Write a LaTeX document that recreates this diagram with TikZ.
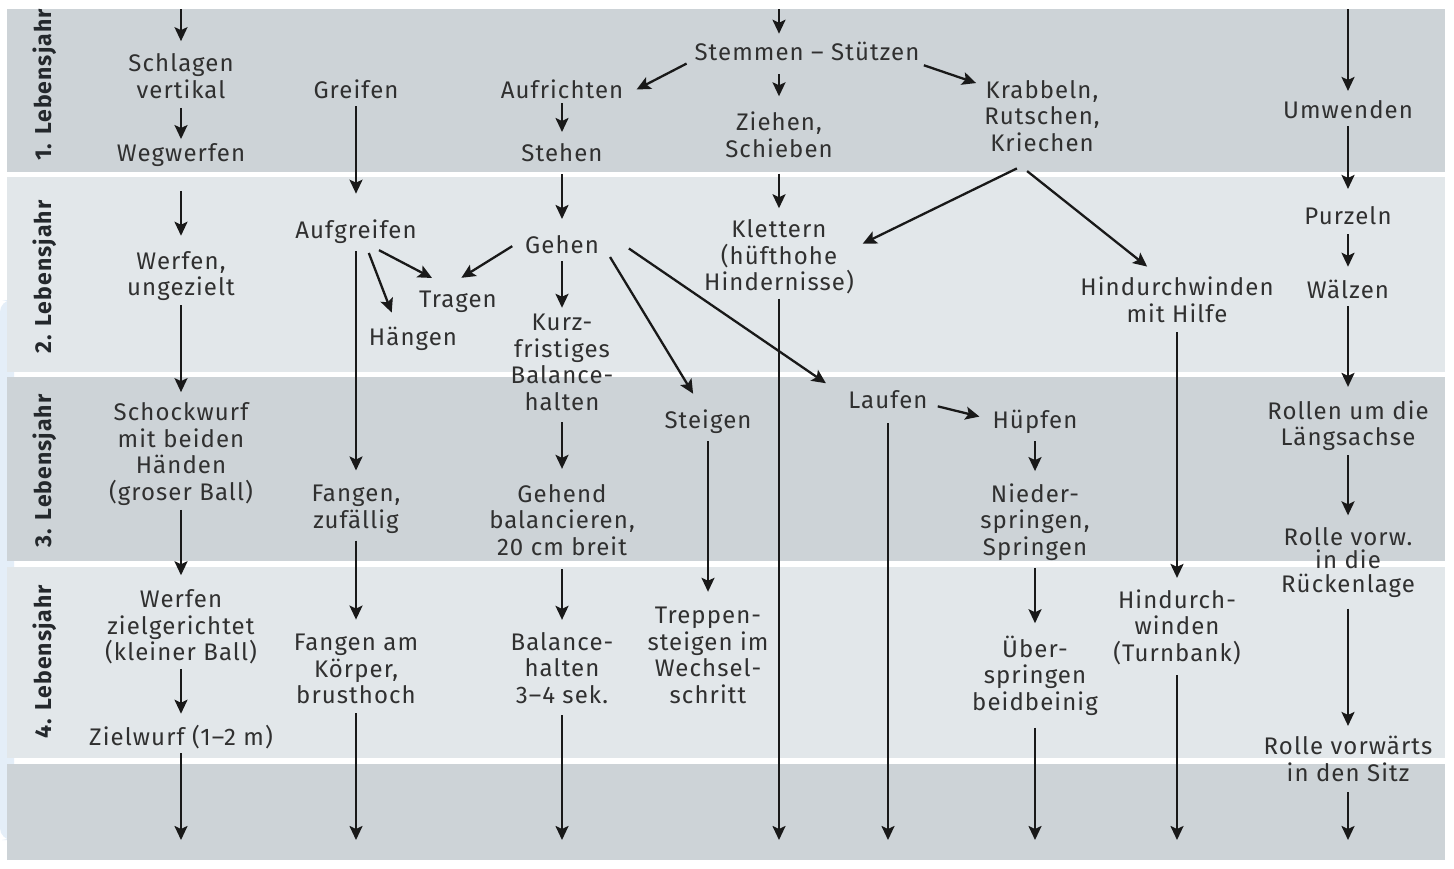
\documentclass[tikz,border=0pt]{standalone}
\usepackage{fontspec}
\setmainfont{Fira Sans}[LetterSpace=4.5]
\usetikzlibrary{arrows.meta}
\definecolor{banddark}{RGB}{205,211,215}
\definecolor{bandlight}{RGB}{226,231,234}
\definecolor{edgeblue}{RGB}{228,238,248}
\definecolor{txtgrey}{RGB}{48,48,48}
\definecolor{yeargrey}{RGB}{36,40,44}
\definecolor{arrowgrey}{RGB}{25,25,25}

\begin{document}
\begin{tikzpicture}[x=0.5pt, y=-0.5pt,
  act/.style={font=\fontsize{12}{13.3}\selectfont, text=txtgrey, align=center, inner sep=2pt},
  year/.style={font=\fontsize{11.5}{12}\selectfont\bfseries, text=yeargrey, rotate=90, inner sep=2pt},
  arr/.style={draw=arrowgrey, line width=1.15pt, -{Stealth[length=7pt, width=6.5pt, inset=1.5pt]}}]

\useasboundingbox (0,0) rectangle (1454,868);
\fill [white] (0,0) rectangle (1454,868);
\fill [edgeblue, rounded corners=6pt] (0,300) rectangle (14,840);
\fill [banddark] (7,9) rectangle (1445,172);
\fill [bandlight] (7,177) rectangle (1445,372);
\fill [banddark] (7,377) rectangle (1445,561);
\fill [bandlight] (7,567) rectangle (1445,758);
\fill [banddark] (7,764) rectangle (1445,860);

\node [year] (lj1) at (45,85) {1. Lebensjahr};
\node [year] (lj2) at (45,277) {2. Lebensjahr};
\node [year] (lj3) at (45,471) {3. Lebensjahr};
\node [year] (lj4) at (45,662) {4. Lebensjahr};

\coordinate (top1) at (181,9);
\coordinate (top4) at (779,9);
\coordinate (top5) at (1348,9);
\coordinate (bot1) at (181,840);
\coordinate (bot2) at (356,840);
\coordinate (bot3) at (562,840);
\coordinate (bot4) at (779,840);
\coordinate (bot5) at (888,840);
\coordinate (bot6) at (1035,840);
\coordinate (bot7) at (1177,840);
\coordinate (bot8) at (1348,840);

\node [act] (s1a) at (181,76) {Schlagen\\vertikal};
\node [act] (s1b) at (181,155) {Wegwerfen};
\node [act] (s1c) at (181,276) {Werfen,\\ungezielt};
\node [act] (s1d) at (181,454) {Schockwurf\\mit beiden\\Händen\\(groser Ball)};
\node [act] (s1e) at (181,627) {Werfen\\zielgerichtet\\(kleiner Ball)};
\node [act] (s1f) at (181,737) {Zielwurf (1–2 m)};

\node [act] (g2a) at (356,89.5) {Greifen};
\node [act] (g2b) at (356,232) {Aufgreifen};
\node [act] (tragen) at (458,302) {Tragen};
\node [act] (haengen) at (413,339) {Hängen};
\node [act] (g2c) at (356,509) {Fangen,\\zufällig};
\node [act] (g2d) at (356,669) {Fangen am\\Körper,\\brusthoch};

\node [act] (aufrichten) at (562,89.5) {Aufrichten};
\node [act] (stehen) at (562,152.5) {Stehen};
\node [act] (gehen) at (562,244.5) {Gehen};
\node [act] (kurz) at (562,362.5) {Kurz-\\fristiges\\Balance-\\halten};
\node [act] (gehend) at (562,520) {Gehend\\balancieren,\\20 cm breit};
\node [act] (balance) at (562,668) {Balance-\\halten\\3–4 sek.};
\node [act] (steigen) at (708,422) {Steigen};
\node [act] (treppen) at (708,655.5) {Treppen-\\steigen im\\Wechsel-\\schritt};

\node [act] (ss) at (807,51.5) {Stemmen – Stützen};
\node [act] (ziehen) at (779,134.5) {Ziehen,\\Schieben};
\node [act] (klettern) at (779,257) {Klettern\\(hüfthohe\\Hindernisse)};
\node [act] (krabbeln) at (1042,116) {Krabbeln,\\Rutschen,\\Kriechen};
\node [act] (laufen) at (888,399.5) {Laufen};
\node [act] (huepfen) at (1035,422) {Hüpfen};
\node [act] (nieder) at (1035,522) {Nieder-\\springen,\\Springen};
\node [act] (ueber) at (1035,675.5) {Über-\\springen\\beidbeinig};
\node [act] (hmh) at (1177,300) {Hindurchwinden\\mit Hilfe};
\node [act] (htb) at (1177,627) {Hindurch-\\winden\\(Turnbank)};

\node [act] (umwenden) at (1348,109.5) {Umwenden};
\node [act] (purzeln) at (1348,215.5) {Purzeln};
\node [act] (waelzen) at (1348,289.5) {Wälzen};
\node [act] (rollen) at (1348,425.5) {Rollen um die\\Längsachse};
\node [act, font=\fontsize{12}{11.6}\selectfont] (rvorw) at (1348,562.5) {Rolle vorw.\\in die\\Rückenlage};
\node [act] (rsitz) at (1348,759) {Rolle vorwärts\\in den Sitz};

\draw [arr, shorten >=4pt] (top1) -- (s1a);
\draw [arr, shorten <=2.5pt] (s1a) -- (s1b);
\draw [arr, shorten <=10pt, shorten >=5.5pt] (s1b) -- (s1c);
\draw [arr, shorten >=3pt] (s1c) -- (s1d);
\draw [arr, shorten >=5pt] (s1d) -- (s1e);
\draw [arr, shorten >=3.5pt] (s1e) -- (s1f);
\draw [arr] (s1f) -- (bot1);

\draw [arr, shorten <=1.5pt, shorten >=11pt] (g2a) -- (g2b);
\draw [arr, shorten <=1.5pt, shorten >=5pt] (g2b) -- (g2c);
\draw [arr, shorten <=1.5pt, shorten >=5pt] (g2c) -- (g2d);
\draw [arr, shorten <=2.5pt] (g2d) -- (bot2);
\draw [arr, shorten <=2pt, shorten >=9.5pt] (g2b.320) -- (tragen.121);
\draw [arr, shorten <=2.5pt, shorten >=5.5pt] (g2b.304) -- (haengen.137);

\draw [arr, shorten >=3.5pt] (aufrichten) -- (stehen);
\draw [arr, shorten <=4pt, shorten >=6pt] (stehen) -- (gehen);
\draw [arr, shorten <=1.5pt, shorten >=1pt] (gehen) -- (kurz);
\draw [arr, shorten <=3.5pt, shorten >=5.5pt] (kurz) -- (gehend);
\draw [arr, shorten <=4.5pt, shorten >=4pt] (gehend) -- (balance);
\draw [arr, shorten <=3.5pt] (balance) -- (bot3);
\draw [arr, shorten <=5pt, shorten >=8.5pt] (gehen.175) -- (tragen.126);
\draw [arr, shorten <=6.5pt, shorten >=7pt] (gehen.358) -- (steigen.115);
\draw [arr, shorten <=15.5pt, shorten >=11pt] (gehen.north east) -- (laufen.175);
\draw [arr, shorten <=1.5pt, shorten >=5.5pt] (steigen) -- (treppen);

\draw [arr, shorten >=2pt] (top4) -- (top4 |- ss.north);
\draw [arr, shorten <=2pt, shorten >=5pt] (ss.185) -- (aufrichten.356);
\draw [arr, shorten >=2pt] (ss.south east) -- (krabbeln.153);
\draw [arr, shorten <=4.5pt, shorten >=5.5pt] (ss.south -| ziehen) -- (ziehen);
\draw [arr, shorten <=6pt, shorten >=3.5pt] (ziehen) -- (klettern);
\draw [arr] (klettern) -- (bot4);
\draw [arr, shorten <=14pt, shorten >=2.5pt] (krabbeln.south) -- (klettern.8);
\draw [arr, shorten <=12pt, shorten >=5pt] (krabbeln.230) -- (hmh.129);

\draw [arr, shorten <=5pt] (laufen) -- (bot5);
\draw [arr, shorten <=3pt, shorten >=4.5pt] (laufen.353) -- (huepfen.176);
\draw [arr, shorten <=1.5pt, shorten >=4pt] (huepfen) -- (nieder);
\draw [arr, shorten <=1.5pt, shorten >=4pt] (nieder) -- (ueber);
\draw [arr, shorten <=4pt] (ueber) -- (bot6);
\draw [arr, shorten <=2.5pt, shorten >=3.5pt] (hmh) -- (htb);
\draw [arr, shorten <=3pt] (htb) -- (bot7);

\draw [arr, shorten >=2.5pt] (top5) -- (umwenden);
\draw [arr, shorten <=1.5pt, shorten >=6.5pt] (umwenden) -- (purzeln);
\draw [arr, shorten <=2.5pt, shorten >=4.5pt] (purzeln) -- (waelzen);
\draw [arr, shorten <=1.5pt, shorten >=4.5pt] (waelzen) -- (rollen);
\draw [arr, shorten >=4pt] (rollen) -- (rvorw);
\draw [arr, shorten <=3.5pt, shorten >=3pt] (rvorw) -- (rsitz);
\draw [arr, shorten <=3pt] (rsitz) -- (bot8);
\end{tikzpicture}
\end{document}
